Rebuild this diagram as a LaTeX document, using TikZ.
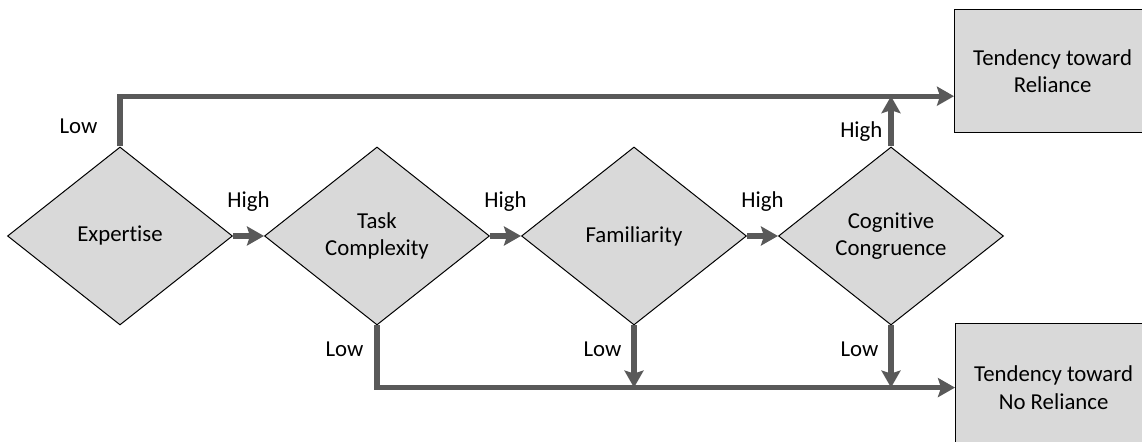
\documentclass[tikz,border=0pt]{standalone}
\usepackage{fontspec}
\setmainfont{Carlito}[Ligatures=NoCommon]
\usetikzlibrary{shapes.geometric, arrows.meta, positioning, calc}
\definecolor{flowgray}{RGB}{89, 89, 89}
\definecolor{shapefill}{RGB}{217, 217, 217}
\tikzset{
  font=\fontsize{11.4}{13.7}\selectfont,
  decisionblock/.style={
    diamond, draw=black, fill=shapefill, line width=0.5pt,
    minimum width=112.5pt, minimum height=89pt, inner sep=0pt,
    align=center
  },
  outcomeblock/.style={
    rectangle, draw=black, fill=shapefill, line width=0.6pt,
    minimum width=98pt, anchor=north west, align=center
  },
  flowline/.style={
    draw=flowgray, line width=2.6pt, -{Stealth[length=8.5pt, width=9.5pt, inset=1.5pt]}
  },
  branchlabel/.style={inner sep=0pt, text=black}
}

\begin{document}
\begin{tikzpicture}
  \useasboundingbox (0,0) rectangle (571pt,221pt);

  % Decision chain
  \node[decisionblock] (expertise) at (60pt,103pt) {Expertise};
  \node[decisionblock, right=15.5pt of expertise] (task) {Task\\Complexity};
  \node[decisionblock, right=15.5pt of task] (familiarity) {Familiarity};
  \node[decisionblock, right=15.5pt of familiarity] (congruence) {Cognitive\\Congruence};

  % Outcomes
  \node[outcomeblock, minimum height=61.5pt] (rely) at (477pt,216.5pt) {Tendency toward\\Reliance};
  \node[outcomeblock, minimum height=64pt] (norely) at (477.5pt,59.5pt) {Tendency toward\\No Reliance};

  \coordinate (relyin) at ($(rely.south west)+(0,18.5pt)$);

  % High branches
  \draw[flowline] (expertise.east) -- node[branchlabel, above=11pt] {High} (task.west);
  \draw[flowline] (task.east) -- node[branchlabel, above=11pt] {High} (familiarity.west);
  \draw[flowline] (familiarity.east) -- node[branchlabel, above=11pt] {High} (congruence.west);
  \draw[flowline] (congruence.north) -- node[branchlabel, pos=0.3, left=3pt] {High} (congruence.north |- relyin);

  % Low branches
  \draw[flowline] (expertise.north) |- node[branchlabel, pos=0.2, left=10pt] {Low} (relyin);
  \draw[flowline] (task.south) |- node[branchlabel, pos=0.19, left=5.5pt] {Low} (norely.west);
  \draw[flowline] (familiarity.south) -- node[branchlabel, pos=0.38, left=5pt] {Low} (familiarity.south |- norely.west);
  \draw[flowline] (congruence.south) -- node[branchlabel, pos=0.38, left=5pt] {Low} (congruence.south |- norely.west);

\end{tikzpicture}
\end{document}
